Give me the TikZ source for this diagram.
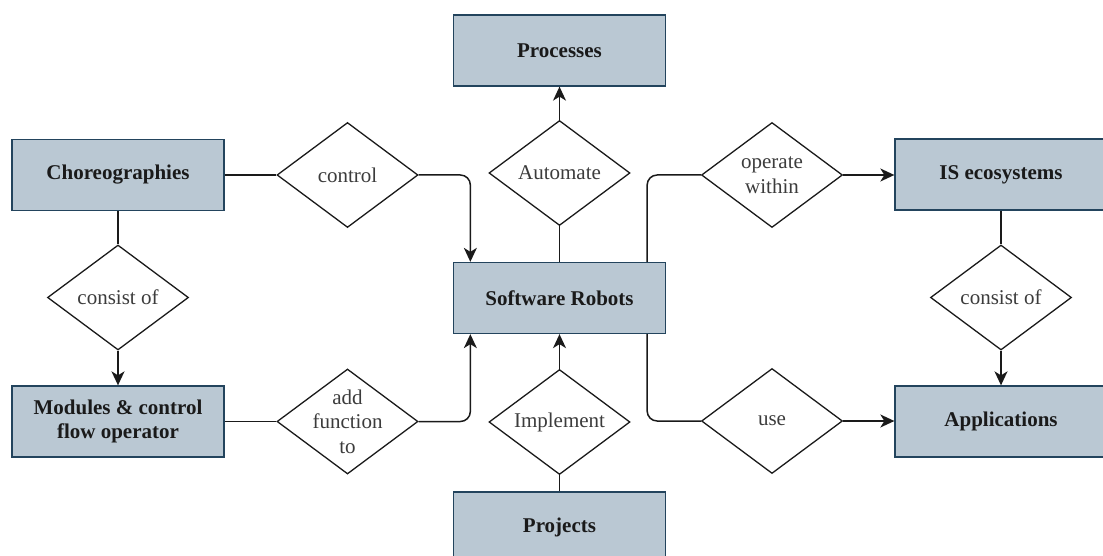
\documentclass[tikz,border=0pt]{standalone}
\usepackage{fontspec}
\setmainfont{Liberation Serif}
\usetikzlibrary{shapes.geometric,arrows.meta}
\definecolor{boxfill}{HTML}{BAC8D3}
\definecolor{boxline}{HTML}{23445D}
\definecolor{ink}{HTML}{1A1A1A}
\begin{document}
\begin{tikzpicture}[x=1pt,y=-1pt,
  entity/.style={draw=boxline, fill=boxfill, line width=1.3pt,
    minimum width=212pt, minimum height=71pt, inner sep=0pt,
    font=\fontsize{21}{24.5}\selectfont\bfseries, text=ink, align=center},
  rel/.style={draw=ink, fill=white, shape=diamond, minimum width=141pt,
    minimum height=105pt, inner sep=0pt, line width=1.3pt},
  reltext/.style={font=\fontsize{21}{24.5}\selectfont, text=ink!85,
    align=center, inner sep=0pt},
  link/.style={draw=ink, line width=1.5pt, rounded corners=10pt},
  arr/.style={link, -{Stealth[length=14pt,width=13pt,inset=4pt]}}
]
\useasboundingbox (0,0) rectangle (1103,556);
\clip (0,0) rectangle (1103,556);

% entities
\node[entity] (proc) at (559.5,50.5)  {Processes};
\node[entity] (chor) at (118,175)     {Choreographies};
\node[entity] (sr)   at (559.5,298)   {Software Robots};
\node[entity] (ise)  at (1001,174.5)  {IS ecosystems};
\node[entity] (mod)  at (118,421.5)   {Modules \& control\\flow operator};
\node[entity] (app)  at (1001,421.5)  {Applications};
\node[entity] (proj) at (559.5,527.5) {Projects};

% relationships
\node[rel] (ctl)   at (347.5,175)   {};
\node[rel] (aut)   at (559.5,173)   {};
\node[rel] (opw)   at (772,175)     {};
\node[rel] (consl) at (118,297.5)   {};
\node[rel] (consr) at (1001,297.5)  {};
\node[rel] (addf)  at (347.5,421.5) {};
\node[rel] (impl)  at (559.5,422)   {};
\node[rel] (use)   at (772,421)     {};

\node[reltext] (ctl-t)   at (ctl)   {control};
\node[reltext] (aut-t)   at (aut)   {Automate};
\node[reltext] (opw-t)   at (opw)   {operate\\within};
\node[reltext] (consl-t) at (consl) {consist of};
\node[reltext] (consr-t) at (consr) {consist of};
\node[reltext] (addf-t)  at (addf)  {add\\function\\to};
\node[reltext] (impl-t)  at (impl)  {Implement};
\node[reltext] (use-t)   at (use)   {use};

% connectors
\draw[link] (chor) -- (ctl);
\draw[arr]  (ctl.east) -| ([xshift=17.5pt]sr.north west);
\draw[arr]  (aut.north) -- (proc.south);
\draw[link] (aut.south) -- (sr.north);
\draw[link] ([xshift=-19pt]sr.north east) |- (opw.west);
\draw[arr]  (opw.east) -- (opw.east -| ise.west);
\draw[link] (ise.south) -- (consr.north);
\draw[arr]  (consr.south) -- (app.north);
\draw[link] (chor.south) -- (consl.north);
\draw[arr]  (consl.south) -- (mod.north);
\draw[link] (mod.east) -- (addf.west);
\draw[arr]  (addf.east) -| ([xshift=17.5pt]sr.south west);
\draw[link] (proj.north) -- (impl.south);
\draw[arr]  (impl.north) -- (sr.south);
\draw[link] ([xshift=-19pt]sr.south east) |- (use.west);
\draw[arr]  (use.east) -- (use.east -| app.west);
\end{tikzpicture}
\end{document}
